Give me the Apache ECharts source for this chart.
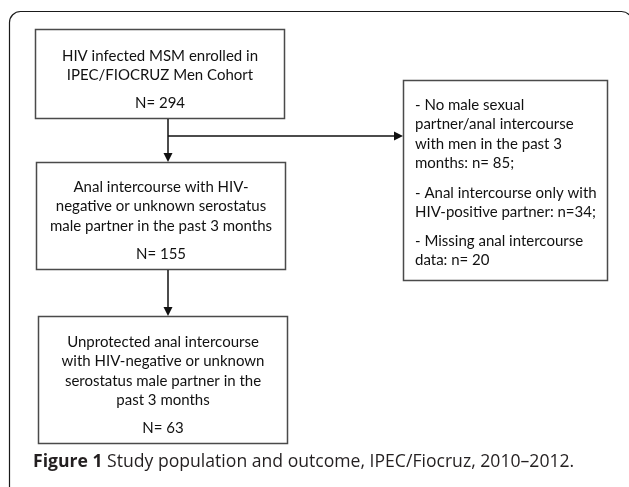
<!DOCTYPE html>
<html>
<head>
<meta charset="utf-8">
<script src="https://cdn.jsdelivr.net/npm/echarts@6/dist/echarts.min.js"></script>
<style>
html,body{margin:0;padding:0;background:#fff;}
#chart{width:629px;height:487px;}
</style>
</head>
<body>
<div id="chart"></div>
<script>
// ---- content ----
const box1Lines = ['HIV infected MSM enrolled in', 'IPEC/FIOCRUZ Men Cohort'];
const box2Lines = ['Anal intercourse with HIV-', 'negative or unknown serostatus', 'male partner in the past 3 months'];
const box3Lines = ['Unprotected anal intercourse', 'with HIV-negative or unknown', 'serostatus male partner in the', 'past 3 months'];
const counts = [294, 155, 63];
const exclusionParas = [
  ['- No male sexual', 'partner/anal intercourse', 'with men in the past 3', 'months: n= 85;'],
  ['- Anal intercourse only with', 'HIV-positive partner: n=34;'],
  ['- Missing anal intercourse', 'data: n= 20']
];
const captionBold = 'Figure 1';
const captionText = ' Study population and outcome, IPEC/Fiocruz, 2010\u20132012.';

// ---- layout ----
const FONT = 'Lato, "Open Sans", sans-serif';
const FS = 15;
const LH = 19.5;
const TXT = '#111';
const BORDER = '#4a4a4a';
const boxes = [
  {x: 35, y: 29, w: 249, h: 89, firstY: 56, nY: 103},
  {x: 36, y: 162, w: 249, h: 107, firstY: 187, nY: 254},
  {x: 38, y: 316, w: 249, h: 127, firstY: 342, nY: 428}
];
const sideBox = {x: 403, y: 80, w: 204, h: 200, textX: 415, paraY: [105, 193, 241]};
const arrowX = 168;
const branchY = 136;

const g = [];
// outer frame (rounded top corners, right and bottom edges run off the page)
g.push({type: 'rect', shape: {x: 9.5, y: 11.5, width: 623, height: 520, r: [11, 11, 0, 0]},
  style: {fill: 'none', stroke: '#1a1a1a', lineWidth: 1.2}, z: 1});

const boxLines = [box1Lines, box2Lines, box3Lines];
boxes.forEach((b, i) => {
  g.push({type: 'rect', shape: {x: b.x + 0.5, y: b.y + 0.5, width: b.w, height: b.h},
    style: {fill: '#fff', stroke: BORDER, lineWidth: 1.5}, z: 2});
  boxLines[i].forEach((t, k) => {
    g.push({type: 'text', z: 3, style: {text: t, x: b.x + b.w / 2 + 0.5, y: b.firstY + k * LH,
      textAlign: 'center', textVerticalAlign: 'middle', font: FS + 'px ' + FONT, fill: TXT}});
  });
  g.push({type: 'text', z: 3, style: {text: 'N= ' + counts[i], x: b.x + b.w / 2 + 0.5, y: b.nY,
    textAlign: 'center', textVerticalAlign: 'middle', font: FS + 'px ' + FONT, fill: TXT}});
});

g.push({type: 'rect', shape: {x: sideBox.x + 0.5, y: sideBox.y + 0.5, width: sideBox.w, height: sideBox.h},
  style: {fill: '#fff', stroke: BORDER, lineWidth: 1.5}, z: 2});
exclusionParas.forEach((p, pi) => {
  p.forEach((t, k) => {
    g.push({type: 'text', z: 3, style: {text: t, x: sideBox.textX, y: sideBox.paraY[pi] + k * LH,
      textAlign: 'left', textVerticalAlign: 'middle', font: FS + 'px ' + FONT, fill: TXT}});
  });
});

function arrowV(x, y1, y2) {
  g.push({type: 'line', shape: {x1: x, y1: y1, x2: x, y2: y2 - 8}, style: {stroke: '#111', lineWidth: 1.5}, z: 2});
  g.push({type: 'polygon', shape: {points: [[x - 4.5, y2 - 9], [x + 4.5, y2 - 9], [x, y2]]}, style: {fill: '#111'}, z: 2});
}
function arrowH(x1, x2, y) {
  g.push({type: 'line', shape: {x1: x1, y1: y, x2: x2 - 8, y2: y}, style: {stroke: '#111', lineWidth: 1.5}, z: 2});
  g.push({type: 'polygon', shape: {points: [[x2 - 9, y - 4.5], [x2 - 9, y + 4.5], [x2, y]]}, style: {fill: '#111'}, z: 2});
}
arrowV(arrowX, boxes[0].y + boxes[0].h + 1, boxes[1].y);
arrowH(arrowX, sideBox.x, branchY);
arrowV(arrowX, boxes[1].y + boxes[1].h + 1, boxes[2].y);

g.push({type: 'text', z: 3, style: {text: '{b|' + captionBold + '}' + captionText, x: 33, y: 462,
  textAlign: 'left', textVerticalAlign: 'middle', font: '17.6px "Open Sans", sans-serif', fill: '#231f20',
  rich: {b: {fontWeight: 'bold', fontSize: 17.6, fontFamily: '"Open Sans", sans-serif', fill: '#231f20'}}}});

const chart = echarts.init(document.getElementById('chart'), null, {renderer: 'canvas'});
chart.setOption({backgroundColor: '#fff', animation: false, graphic: {elements: g}});
</script>
</body>
</html>
